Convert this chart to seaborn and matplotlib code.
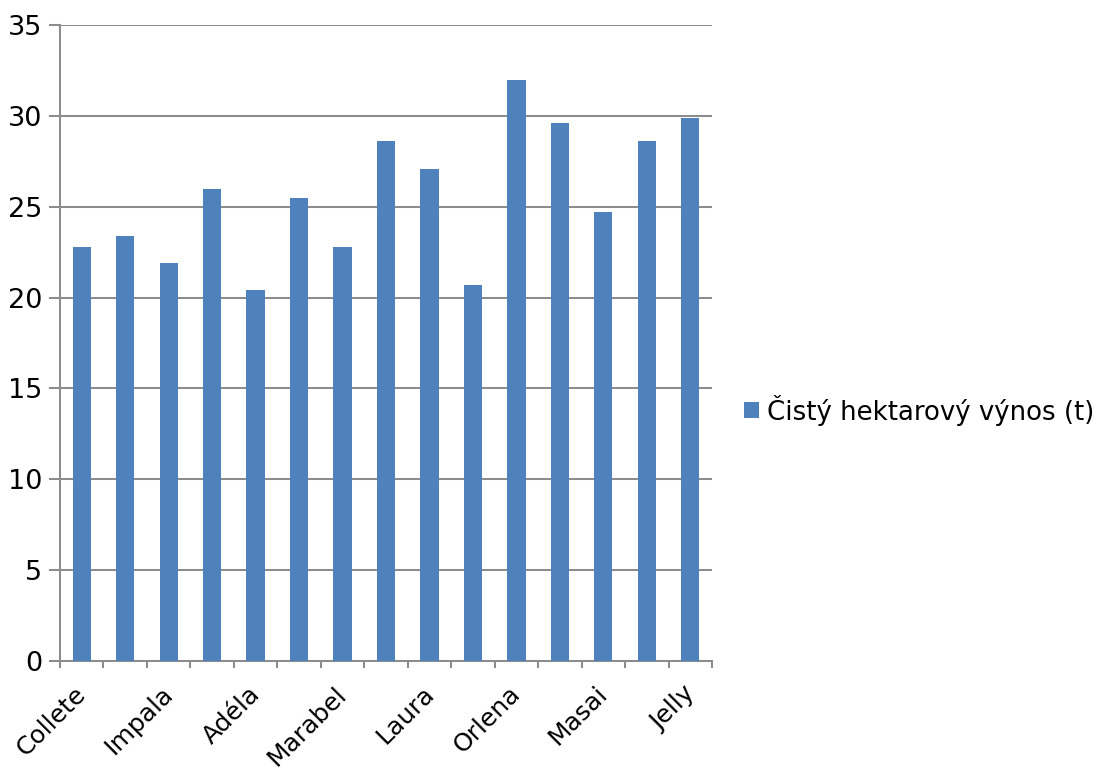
import numpy as np
import matplotlib
matplotlib.use("Agg")
import matplotlib.pyplot as plt
import seaborn as sns
from matplotlib.patches import Patch

# Net yield per hectare (t) for 15 potato varieties; every other variety is labelled
yields = [22.8, 23.4, 21.9, 26.0, 20.4, 25.5, 22.8, 28.6, 27.1, 20.7,
          32.0, 29.6, 24.7, 28.6, 29.9]
shown_labels = ["Collete", "Impala", "Adéla", "Marabel", "Laura",
                "Orlena", "Masai", "Jelly"]
series_name = "Čistý hektarový výnos (t)"
y_ticks = [0, 5, 10, 15, 20, 25, 30, 35]

bar_color = "#4F81BD"
grid_color = "#8C8C8C"

sns.set_theme(style="white")
plt.rcParams["font.family"] = ["DejaVu Sans"]
plt.rcParams["text.color"] = "black"

fig = plt.figure(figsize=(10.97, 7.69), dpi=100)
ax = fig.add_axes([60 / 1097, 108 / 769, 652 / 1097, 636 / 769])

idx = np.arange(len(yields))
sns.barplot(x=idx, y=yields, color=bar_color, width=0.42, saturation=1,
            linewidth=0, ax=ax, zorder=3)

ax.set_xlim(-0.5, len(yields) - 0.5)
ax.set_ylim(0, 35)
ax.set_yticks(y_ticks)
ax.yaxis.grid(True, color=grid_color, linewidth=1.45, zorder=0)
ax.set_axisbelow(True)

# Category boundary ticks on the x axis; rotated labels sit at every other
# bar, nudged left so the end of each label lines up under its bar
ax.set_xticks(np.arange(len(yields) + 1) - 0.5)
ax.set_xticklabels([])
ax.set_xticks(idx[::2] - 0.18, minor=True)
ax.set_xticklabels(shown_labels, minor=True, rotation=45, ha="right",
                   rotation_mode="anchor", fontsize=18)
ax.tick_params(axis="x", which="major", length=5, width=1.45,
               color=grid_color, direction="out", bottom=True)
ax.tick_params(axis="x", which="minor", length=0, pad=15, labelcolor="black")
ax.tick_params(axis="y", length=7.9, width=1.45, color=grid_color,
               direction="out", left=True, labelsize=19.5, pad=5,
               labelcolor="black")

for side in ("top", "right"):
    ax.spines[side].set_visible(False)
for side in ("left", "bottom"):
    ax.spines[side].set_color(grid_color)
    ax.spines[side].set_linewidth(1.45)
ax.set_xlabel("")
ax.set_ylabel("")

handle = Patch(facecolor=bar_color, edgecolor="none", label=series_name)
fig.legend(handles=[handle], loc="center left",
           bbox_to_anchor=(721 / 1097, 1 - 410 / 769),
           frameon=False, fontsize=18.7, handlelength=0.58, handleheight=0.58,
           handletextpad=0.3, labelcolor="black")

fig.savefig("out.png", dpi=100)
